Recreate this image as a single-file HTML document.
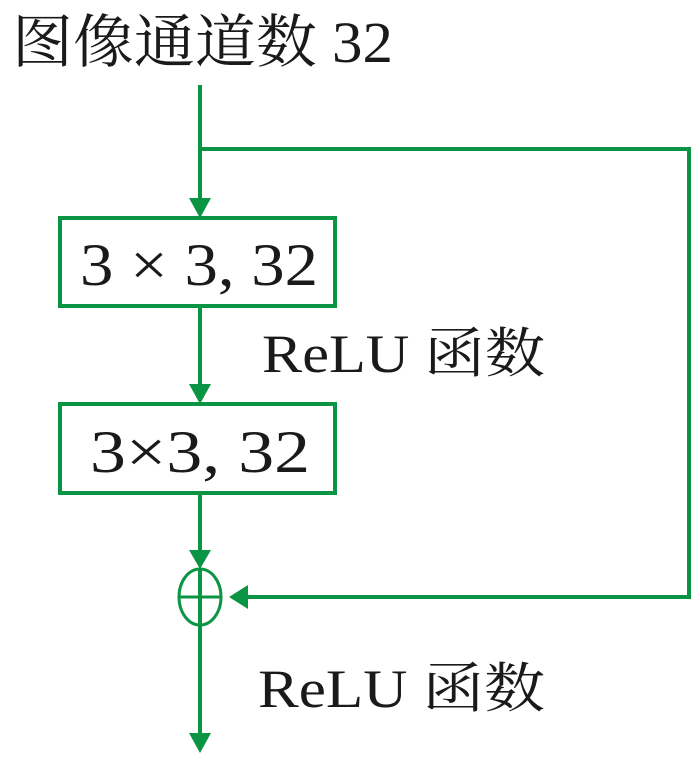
<!DOCTYPE html>
<html><head><meta charset="utf-8"><style>
html,body{margin:0;padding:0;background:#fff;}
svg{display:block;}
text{font-family:"Liberation Serif","Noto Serif CJK SC",serif;fill:#1a1a1a;}
</style></head><body>
<svg width="700" height="762" viewBox="0 0 700 762" xmlns="http://www.w3.org/2000/svg">
<g stroke="#0b9444" stroke-width="4" fill="none">
<line x1="200" y1="85" x2="200" y2="200"/>
<polyline points="200,149 689,149 689,597 245,597"/>
<rect x="60" y="218" width="275" height="88"/>
<line x1="200" y1="306" x2="200" y2="386"/>
<rect x="60" y="404" width="275" height="89"/>
<line x1="200" y1="493" x2="200" y2="552"/>
<ellipse cx="200" cy="597" rx="21" ry="28" stroke-width="3"/>
<line x1="179" y1="597" x2="221" y2="597" stroke-width="3"/>
<line x1="200" y1="569" x2="200" y2="735"/>
</g>
<g fill="#0b9444">
<polygon points="189,198 211,198 200,218"/>
<polygon points="189,384 211,384 200,404"/>
<polygon points="189,550 211,550 200,569"/>
<polygon points="248,585 248,609 229,597"/>
<polygon points="189,733 211,733 200,753"/>
</g>
<text x="12" y="62" font-size="58" textLength="381" lengthAdjust="spacingAndGlyphs">图像通道数 32</text>
<text x="80" y="285" font-size="60" textLength="238" lengthAdjust="spacingAndGlyphs">3 × 3, 32</text>
<text x="90" y="472" font-size="60" textLength="220" lengthAdjust="spacingAndGlyphs">3×3, 32</text>
<text x="262" y="372" font-size="54" textLength="283" lengthAdjust="spacingAndGlyphs">ReLU 函数</text>
<text x="258" y="707" font-size="54" textLength="287" lengthAdjust="spacingAndGlyphs">ReLU 函数</text>
</svg>
</body></html>
